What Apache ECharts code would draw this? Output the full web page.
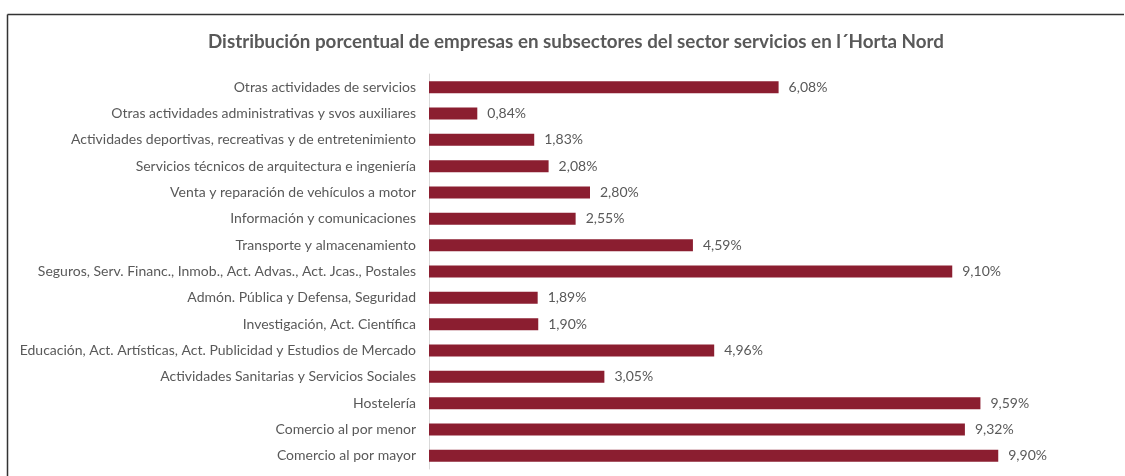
<!DOCTYPE html>
<html><head><meta charset="utf-8">
<script src="https://cdn.jsdelivr.net/npm/echarts@6/dist/echarts.min.js"></script>
<style>html,body{margin:0;padding:0;background:#fff}#c{width:1125px;height:476px}</style>
</head><body><div id="c"></div>
<script>
const categories = [
  "Otras actividades de servicios",
  "Otras actividades administrativas y svos auxiliares",
  "Actividades deportivas, recreativas y de entretenimiento",
  "Servicios técnicos de arquitectura e ingeniería",
  "Venta y reparación de vehículos a motor",
  "Información y comunicaciones",
  "Transporte y almacenamiento",
  "Seguros, Serv. Financ., Inmob., Act. Advas., Act. Jcas., Postales",
  "Admón. Pública y Defensa, Seguridad",
  "Investigación, Act. Científica",
  "Educación, Act. Artísticas, Act. Publicidad y Estudios de Mercado",
  "Actividades Sanitarias y Servicios Sociales",
  "Hostelería",
  "Comercio al por menor",
  "Comercio al por mayor"
];
const values = [6.08, 0.84, 1.83, 2.08, 2.80, 2.55, 4.59, 9.10, 1.89, 1.90, 4.96, 3.05, 9.59, 9.32, 9.90];
const title = "Distribución porcentual de empresas en subsectores del sector servicios en l´Horta Nord";
const FONT = "Lato";
const chart = echarts.init(document.getElementById('c'));
chart.setOption({
  animation: false,
  title: { text: title, left: 203, top: 27,
    textStyle: { fontFamily: FONT, fontSize: 18.8, fontWeight: 'bold', color: '#595959' } },
  graphic: [
    { type: 'line', shape: { x1: 7.5, y1: 14.5, x2: 1124, y2: 14.5 }, style: { stroke: '#333', lineWidth: 1.5 } },
    { type: 'line', shape: { x1: 7.5, y1: 14.5, x2: 7.5, y2: 476 }, style: { stroke: '#333', lineWidth: 1.5 } }
  ],
  grid: { left: 429, right: 121, top: 74, height: 395 },
  xAxis: { type: 'value', min: 0, max: 10, show: false },
  yAxis: { type: 'category', data: categories, inverse: true,
    axisLine: { lineStyle: { color: '#d9d9d9' } }, axisTick: { show: false },
    axisLabel: { fontFamily: FONT, fontSize: 14, color: '#595959', margin: 13 } },
  series: [{ type: 'bar', data: values, barWidth: 12,
    itemStyle: { color: '#8B1E30' },
    label: { show: true, position: 'right', distance: 10, fontFamily: FONT, fontSize: 14, color: '#595959',
      formatter: p => p.value.toFixed(2).replace('.', ',') + '%' } }]
});
</script></body></html>
